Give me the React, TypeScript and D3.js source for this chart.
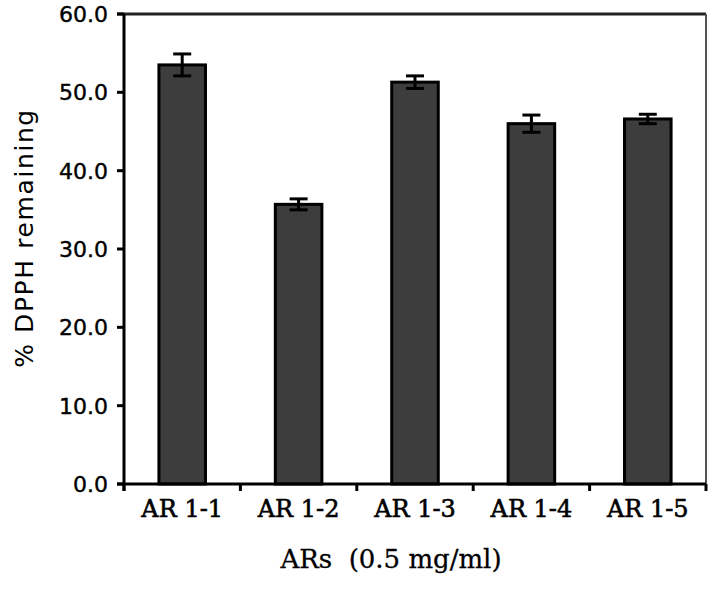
import { useMemo } from 'react'
import * as d3 from 'd3'

const categories = ['AR 1-1', 'AR 1-2', 'AR 1-3', 'AR 1-4', 'AR 1-5']
const means = [53.5, 35.7, 51.3, 46.0, 46.6]
const errors = [1.4, 0.7, 0.8, 1.1, 0.6]
const yTicks = [0, 10, 20, 30, 40, 50, 60]

const width = 708
const height = 589
const margin = { top: 14, right: 2, bottom: 105, left: 124 }

export default function App() {
  const { x, y } = useMemo(() => {
    const x = d3
      .scaleBand<string>()
      .domain(categories)
      .range([margin.left, width - margin.right])
      .padding(0)
    const y = d3
      .scaleLinear()
      .domain([0, 60])
      .range([height - margin.bottom, margin.top])
    return { x, y }
  }, [])

  const bw = x.bandwidth()
  const barW = bw * 0.4
  const capW = 18
  const x0 = margin.left
  const x1 = width - margin.right
  const yBase = y(0)
  const yTop = y(60)

  // band edges, used for the little x ticks
  const edges = categories.map((c) => x(c) as number).concat([x1])

  return (
    <svg
      width={width}
      height={height}
      style={{ position: 'absolute', left: 0, top: 0, background: '#fff' }}
    >
      {/* frame: top and right sides */}
      <line x1={x0 - 7} x2={x1} y1={yTop} y2={yTop} stroke="#222" strokeWidth={3} />
      <line x1={x1} x2={x1} y1={yTop} y2={yBase} stroke="#555" strokeWidth={2} />

      {/* bars */}
      {categories.map((c, i) => {
        const cx = (x(c) as number) + bw / 2
        return (
          <g key={c}>
            <rect
              x={cx - barW / 2}
              y={y(means[i])}
              width={barW}
              height={yBase - y(means[i])}
              fill="#3d3d3d"
              stroke="#000"
              strokeWidth={3}
            />
            <line x1={cx} x2={cx} y1={y(means[i] + errors[i])} y2={y(means[i] - errors[i])} stroke="#000" strokeWidth={3} />
            <line x1={cx - capW / 2} x2={cx + capW / 2} y1={y(means[i] + errors[i])} y2={y(means[i] + errors[i])} stroke="#000" strokeWidth={3} />
            <line x1={cx - capW / 2} x2={cx + capW / 2} y1={y(means[i] - errors[i])} y2={y(means[i] - errors[i])} stroke="#000" strokeWidth={3} />
          </g>
        )
      })}

      {/* y axis */}
      <line x1={x0} x2={x0} y1={yTop} y2={yBase + 7} stroke="#000" strokeWidth={3} />
      {yTicks.map((t) => (
        <g key={t}>
          <line x1={x0 - 7} x2={x0} y1={y(t)} y2={y(t)} stroke="#000" strokeWidth={3} />
          <text
            x={x0 - 16}
            y={y(t)}
            dy="0.36em"
            textAnchor="end"
            fontFamily="DejaVu Sans"
            fontSize={22}
            fill="#000"
            stroke="#000"
            strokeWidth={0.4}
          >
            {t.toFixed(1)}
          </text>
        </g>
      ))}

      {/* x axis */}
      <line x1={x0 - 7} x2={x1} y1={yBase} y2={yBase} stroke="#000" strokeWidth={3} />
      {edges.map((e, i) => (
        <line key={i} x1={e} x2={e} y1={yBase} y2={yBase + 7} stroke="#000" strokeWidth={3} />
      ))}
      {categories.map((c) => (
        <text
          key={c}
          x={(x(c) as number) + bw / 2}
          y={517}
          textAnchor="middle"
          fontFamily="DejaVu Serif"
          fontSize={24}
          fill="#000"
          stroke="#000"
          strokeWidth={0.6}
        >
          {c}
        </text>
      ))}

      {/* axis titles */}
      <text
        x={(x0 + x1) / 2 - 24}
        y={568}
        textAnchor="middle"
        fontFamily="DejaVu Serif"
        fontSize={26}
        fill="#000"
        stroke="#000"
        strokeWidth={0.3}
        style={{ whiteSpace: 'pre' }}
      >
        {'ARs  (0.5 mg/ml)'}
      </text>
      <text
        transform={`translate(33,${238}) rotate(-90)`}
        textAnchor="middle"
        fontFamily="DejaVu Sans"
        fontSize={25}
        letterSpacing={1.6}
        fill="#000"
      >
        % DPPH remaining
      </text>
    </svg>
  )
}
